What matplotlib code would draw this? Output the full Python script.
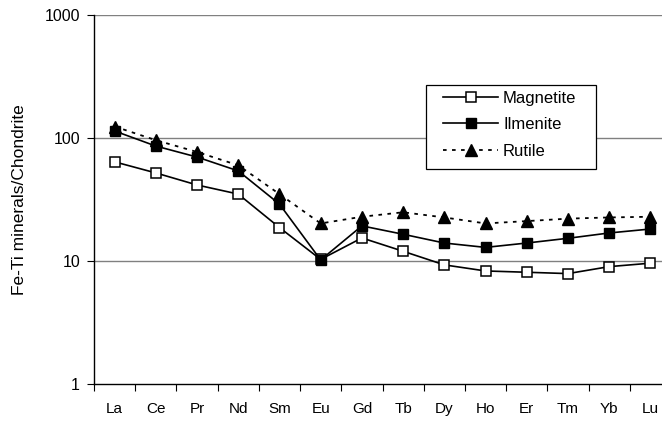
import numpy as np
import matplotlib.pyplot as plt
from matplotlib.patches import Rectangle

elements = ['La', 'Ce', 'Pr', 'Nd', 'Sm', 'Eu', 'Gd', 'Tb', 'Dy', 'Ho', 'Er', 'Tm', 'Yb', 'Lu']
magnetite = [64, 52, 41.5, 35, 18.7, 10.3, 15.4, 12, 9.3, 8.3, 8.1, 7.9, 9.0, 9.6]
ilmenite = [114, 86, 70, 54, 29, 10.2, 19.3, 16.5, 14, 12.9, 14, 15.3, 16.9, 18.2]
rutile = [124, 96, 77, 60, 35, 20.2, 22.9, 24.9, 22.6, 20.2, 21.1, 22.1, 22.6, 22.9]

plt.rcParams['font.family'] = ['Liberation Sans', 'DejaVu Sans']

fig = plt.figure(figsize=(6.62, 4.21), dpi=100)
ax = fig.add_axes([94 / 662, 37 / 421, 577 / 662, 369 / 421])

x = np.arange(len(elements))
ax.plot(x, magnetite, '-', color='black', lw=1.2, marker='s', ms=7,
        mfc='white', mec='black', mew=1.1, label='Magnetite')
ax.plot(x, ilmenite, '-', color='black', lw=1.2, marker='s', ms=7,
        mfc='black', mec='black', label='Ilmenite')
ax.plot(x, rutile, ls=(0, (2, 3)), color='black', lw=1.3, marker='^', ms=8,
        mfc='black', mec='black', label='Rutile')

ax.set_yscale('log')
ax.set_ylim(1, 1000)
ax.set_xlim(-0.5, len(elements) - 0.5)
ax.set_xticks(x)
ax.set_xticklabels(elements)
ax.set_xticks(np.arange(len(elements) + 1) - 0.5, minor=True)
ax.tick_params(axis='x', which='major', length=0, pad=13, labelsize=11)
ax.tick_params(axis='x', which='minor', length=5, direction='out', width=0.8)
ax.set_yticks([1, 10, 100, 1000])
ax.set_yticklabels(['1', '10', '100', '1000'])
ax.yaxis.set_minor_locator(plt.NullLocator())
ax.tick_params(axis='y', length=5, direction='out', width=0.8, labelsize=11.5, pad=5)

for v in [10, 100, 1000]:
    ax.axhline(v, color='#808080', lw=1.0, zorder=0)

ax.spines['top'].set_visible(False)
ax.spines['right'].set_visible(False)
ax.spines['left'].set_linewidth(1.0)
ax.spines['bottom'].set_linewidth(1.0)

ax.set_ylabel('Fe-Ti minerals/Chondrite', fontsize=12.5, labelpad=13)

# legend box drawn separately, entries placed inside it
ax.add_patch(Rectangle((0.575, 0.583), 0.295, 0.228, transform=ax.transAxes,
                       facecolor='white', edgecolor='black', lw=0.9, zorder=4))
leg = ax.legend(loc='upper left', bbox_to_anchor=(0.605, 0.795), frameon=False,
                fontsize=12, handlelength=3.3, borderpad=0, borderaxespad=0,
                labelspacing=0.7, handletextpad=0.3)
leg.set_zorder(5)

fig.savefig('out.png', dpi=100)
